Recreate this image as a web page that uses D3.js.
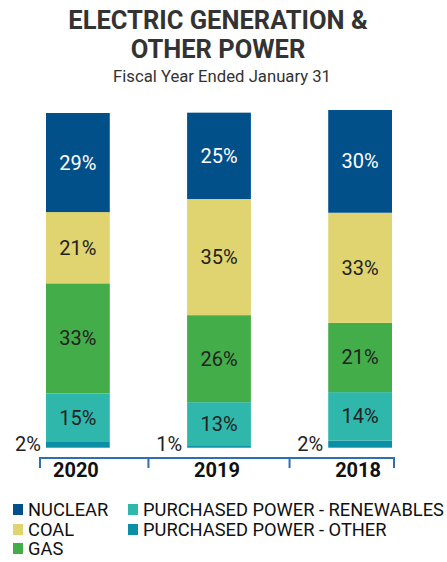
<!DOCTYPE html>
<html>
<head>
<meta charset="utf-8">
<script src="https://cdn.jsdelivr.net/npm/d3@7"></script>
<style>
  body { margin: 0; background: #fff; }
  text { font-family: Roboto, "Noto Sans", sans-serif; }
</style>
</head>
<body>
<div id="chart"></div>
<script>
var w = 447;
var h = 562;

// categories and series, bottom to top of each stack
var years = ["2020", "2019", "2018"];
var other = [1.7, 0.5, 2.1];
var renewables = [14.5, 13.1, 14.5];
var gas = [32.9, 26.0, 20.7];
var coal = [21.3, 34.7, 32.9];
var nuclear = [29.6, 25.8, 30.7];

// printed percentages
var otherLabels = ["2%", "1%", "2%"];
var renewablesLabels = ["15%", "13%", "14%"];
var gasLabels = ["33%", "26%", "21%"];
var coalLabels = ["21%", "35%", "33%"];
var nuclearLabels = ["29%", "25%", "30%"];

var legendNames = ["NUCLEAR", "COAL", "GAS", "PURCHASED POWER - RENEWABLES", "PURCHASED POWER - OTHER"];

var series = [
    { key: "other", values: other, labels: otherLabels, color: "#0b8fa6", text: "#222", outside: true },
    { key: "renewables", values: renewables, labels: renewablesLabels, color: "#2fb7ac", text: "#222" },
    { key: "gas", values: gas, labels: gasLabels, color: "#43ad4a", text: "#222" },
    { key: "coal", values: coal, labels: coalLabels, color: "#dfd46f", text: "#222" },
    { key: "nuclear", values: nuclear, labels: nuclearLabels, color: "#01508a", text: "#fff" }
];

var svg = d3.select("#chart").append("svg").attr("width", w).attr("height", h);

// titles
svg.append("text").attr("x", 218).attr("y", 29).attr("text-anchor", "middle")
    .attr("font-size", 25.5).attr("font-weight", "bold").attr("fill", "#333")
    .text("ELECTRIC GENERATION &");
svg.append("text").attr("x", 218).attr("y", 58).attr("text-anchor", "middle")
    .attr("font-size", 25.5).attr("font-weight", "bold").attr("fill", "#333")
    .text("OTHER POWER");
svg.append("text").attr("x", 222).attr("y", 82).attr("text-anchor", "middle")
    .attr("font-size", 16.7).attr("fill", "#333")
    .text("Fiscal Year Ended January 31");

var xScale = d3.scaleBand().domain(years).range([46, 392]).paddingInner(0.548);
var yScale = d3.scaleLinear().domain([0, 100]).range([447.7, 113]);
var bw = xScale.bandwidth();

// stack
var rows = years.map(function (y, i) {
    var r = { year: y };
    series.forEach(function (s) { r[s.key] = s.values[i]; });
    return r;
});
var stack = d3.stack().keys(series.map(function (s) { return s.key; }));
var stacked = stack(rows);

stacked.forEach(function (layer, li) {
    var s = series[li];
    var g = svg.append("g");
    g.selectAll("rect").data(layer).enter().append("rect")
        .attr("x", function (d) { return xScale(d.data.year); })
        .attr("y", function (d) { return yScale(d[1]); })
        .attr("width", bw)
        .attr("height", function (d) { return yScale(d[0]) - yScale(d[1]); })
        .attr("fill", s.color);

    g.selectAll("text").data(layer).enter().append("text")
        .attr("x", function (d) { return s.outside ? xScale(d.data.year) - 5 : xScale(d.data.year) + bw / 2; })
        .attr("y", function (d) { return s.outside ? yScale(0) + 3 : (yScale(d[0]) + yScale(d[1])) / 2 + 7; })
        .attr("text-anchor", s.outside ? "end" : "middle")
        .attr("font-size", 20)
        .attr("fill", s.text)
        .text(function (d, i) { return s.labels[i]; });
});

// axis bracket
var axisY = 458;
var tickX = [xScale(years[0]) - 6,
    (xScale(years[0]) + bw + xScale(years[1])) / 2,
    (xScale(years[1]) + bw + xScale(years[2])) / 2,
    xScale(years[2]) + bw + 2];
svg.append("line").attr("x1", tickX[0]).attr("x2", tickX[3]).attr("y1", axisY).attr("y2", axisY)
    .attr("stroke", "#2e6fb0").attr("stroke-width", 2);
svg.selectAll(".tick").data(tickX).enter().append("line")
    .attr("x1", function (d) { return d; }).attr("x2", function (d) { return d; })
    .attr("y1", axisY - 1).attr("y2", axisY + 10)
    .attr("stroke", "#2e6fb0").attr("stroke-width", 2);

svg.selectAll(".year").data(years).enter().append("text")
    .attr("x", function (d) { return xScale(d) + bw / 2 - 2; })
    .attr("y", 477)
    .attr("text-anchor", "middle")
    .attr("font-size", 20).attr("font-weight", "bold").attr("fill", "#111")
    .text(function (d) { return d; });

// legend
var legendColors = ["#01508a", "#dfd46f", "#43ad4a", "#2fb7ac", "#0b8fa6"];
var legendPos = [[13, 516], [13, 536], [13, 555], [128, 516], [128, 536]];
var lg = svg.append("g");
legendNames.forEach(function (name, i) {
    var p = legendPos[i];
    lg.append("rect").attr("x", p[0]).attr("y", p[1] - 12).attr("width", 10).attr("height", 11)
        .attr("fill", legendColors[i]);
    lg.append("text").attr("x", p[0] + 15).attr("y", p[1])
        .attr("font-size", 18.3).attr("fill", "#111").text(name);
});
</script>
</body>
</html>
